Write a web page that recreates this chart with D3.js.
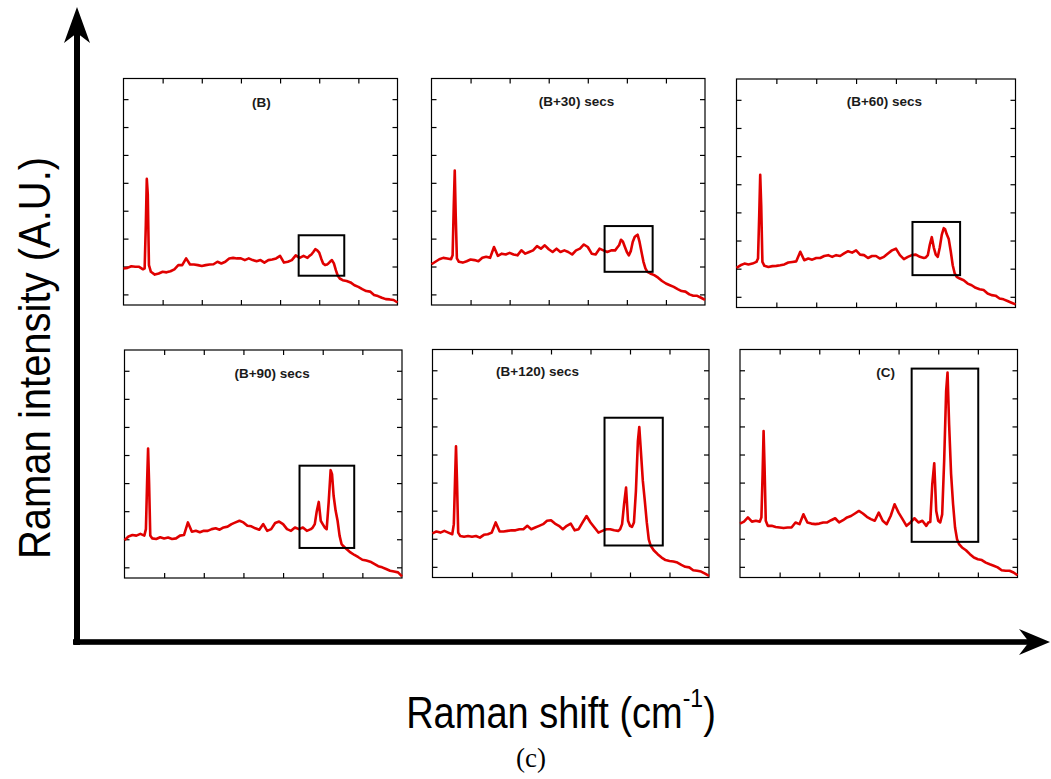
<!DOCTYPE html>
<html>
<head>
<meta charset="utf-8">
<script src="https://cdn.jsdelivr.net/npm/d3@7"></script>
<style>
  html, body { margin: 0; padding: 0; background: #fff; }
  svg { display: block; }
</style>
</head>
<body>
<svg id="chart" width="1051" height="779"></svg>
<script>
// Raman shift sampling grid (cm^-1), shared by every spectrum
const shift = [400,420,440,460,480,500,508,514,519,524,530,
  540,560,580,600,620,640,660,680,700,720,
  740,760,780,800,820,840,860,880,900,920,
  940,960,980,1000,1020,1040,1060,1080,1100,1120,
  1140,1160,1180,1200,1220,1240,1260,1280,1300,1320,1340,
  1350,1360,1370,1380,1390,1400,1410,1420,1430,1440,
  1447,1455,1465,1475,1485,1495,1505,1520,
  1540,1560,1580,1600,1620,1640,1660,1680,1700,1720,1740,1760,1780,1800];

// Raman intensity (A.U.) for each acquisition
const intensityB = [1.93,1.95,2.01,1.99,1.99,1.90,
  1.93,3.48,5.14,4.60,2.05,
  1.81,1.71,1.75,1.81,1.79,1.83,1.90,2.05,2.05,2.29,
  2.07,2.07,2.05,2.02,2.05,2.07,2.08,2.17,2.11,2.17,
  2.29,2.31,2.29,2.29,2.23,2.29,2.23,2.19,2.23,2.14,
  2.23,2.25,2.29,2.38,2.14,2.17,2.23,2.40,2.31,2.38,2.31,
  2.38,2.43,2.52,2.62,2.58,2.50,2.29,2.11,2.05,2.07,
  2.11,2.17,2.23,2.11,1.87,1.67,1.57,1.51,
  1.48,1.43,1.33,1.27,1.19,1.12,1.10,0.98,0.94,0.88,0.83,0.82,0.80,0.71];

const intensityB30 = [2.08,2.17,2.26,2.31,2.29,2.26,
  2.40,4.19,5.44,3.83,2.29,
  2.17,2.14,2.19,2.25,2.23,2.19,2.31,2.35,2.31,2.70,
  2.38,2.46,2.43,2.49,2.43,2.40,2.58,2.46,2.52,2.58,
  2.73,2.64,2.76,2.62,2.52,2.64,2.52,2.58,2.52,2.43,
  2.58,2.64,2.79,2.70,2.46,2.43,2.64,2.58,2.52,2.58,2.58,
  2.67,2.76,2.96,2.89,2.70,2.52,2.40,2.55,2.88,3.06,
  3.10,3.14,2.88,2.52,2.17,1.93,1.81,1.75,
  1.69,1.60,1.48,1.39,1.33,1.27,1.19,1.12,1.10,1.00,0.95,0.95,0.88,0.80];

const intensityB60 = [2.03,2.12,2.18,2.15,2.18,2.24,
  2.36,3.90,5.34,4.25,2.24,
  2.10,2.06,2.09,2.10,2.12,2.15,2.22,2.24,2.26,2.60,
  2.30,2.36,2.32,2.38,2.38,2.45,2.48,2.42,2.48,2.45,
  2.54,2.62,2.57,2.65,2.50,2.48,2.38,2.45,2.45,2.36,
  2.42,2.54,2.65,2.71,2.48,2.34,2.42,2.48,2.50,2.42,2.38,
  2.40,2.48,2.85,3.12,2.75,2.50,2.42,2.75,3.20,3.44,
  3.40,3.22,3.05,2.62,2.12,1.83,1.71,1.65,
  1.59,1.47,1.41,1.32,1.27,1.24,1.12,1.06,1.04,0.94,0.91,0.85,0.79,0.73];

const intensityB90 = [1.97,2.10,2.15,2.13,2.19,2.13,
  2.36,4.02,5.23,4.02,2.13,
  2.03,2.01,2.07,2.03,2.06,2.01,2.03,2.13,2.15,2.60,
  2.27,2.30,2.25,2.30,2.30,2.36,2.39,2.34,2.42,2.45,
  2.54,2.60,2.66,2.60,2.48,2.46,2.39,2.34,2.54,2.30,
  2.36,2.58,2.63,2.54,2.36,2.30,2.42,2.36,2.42,2.30,2.36,
  2.42,2.54,3.00,3.33,2.66,2.54,2.42,2.36,3.31,4.46,
  4.32,3.55,3.02,2.66,2.13,1.83,1.75,1.65,
  1.53,1.44,1.36,1.27,1.24,1.20,1.12,1.04,1.00,0.94,0.88,0.85,0.82,0.68];

const intensityB120 = [2.19,2.26,2.22,2.28,2.22,2.16,
  2.52,4.06,5.29,4.06,2.22,
  2.10,2.07,2.10,2.07,2.10,2.04,2.14,2.16,2.22,2.58,
  2.26,2.26,2.28,2.30,2.30,2.34,2.34,2.46,2.34,2.40,
  2.46,2.52,2.64,2.66,2.54,2.46,2.34,2.46,2.54,2.30,
  2.34,2.58,2.81,2.58,2.40,2.22,2.28,2.34,2.34,2.30,2.28,
  2.34,2.52,3.23,3.82,2.64,2.46,2.42,2.58,3.70,5.48,
  5.98,5.13,4.06,3.35,2.58,1.98,1.75,1.59,
  1.45,1.33,1.24,1.21,1.19,1.15,1.07,1.00,0.98,0.88,0.86,0.83,0.76,0.68];

const intensityC = [2.54,2.61,2.76,2.61,2.64,2.61,
  2.76,4.30,5.84,4.53,2.64,
  2.46,2.46,2.42,2.40,2.38,2.40,2.40,2.58,2.52,2.87,
  2.58,2.54,2.52,2.54,2.58,2.58,2.66,2.73,2.58,2.66,
  2.76,2.81,2.90,2.99,2.90,2.78,2.70,2.64,2.93,2.64,
  2.52,2.81,3.23,2.93,2.70,2.46,2.58,2.73,2.58,2.64,2.46,
  2.58,2.60,3.94,4.69,2.99,2.64,2.58,2.87,4.77,7.26,
  7.92,6.08,4.30,3.23,2.40,1.98,1.81,1.69,
  1.59,1.45,1.33,1.27,1.24,1.15,1.09,1.04,0.98,0.88,0.86,0.86,0.80,0.70];

// Highlighted band region per spectrum: [shift from, shift to, intensity low, intensity high]
const regionB    = [1295, 1528, 1.67, 3.12];
const regionB30  = [1286, 1532, 1.81, 3.45];
const regionB60  = [1283, 1522, 1.77, 3.66];
const regionB90  = [1283, 1559, 1.69, 4.62];
const regionB120 = [1271, 1566, 1.76, 6.31];
const regionC    = [1266, 1602, 1.89, 8.06];

const panelTitles = ["(B)", "(B+30) secs", "(B+60) secs", "(B+90) secs", "(B+120) secs", "(C)"];
const xTickValues = [600, 800, 1000, 1200, 1400, 1600];
const yTickValues = [1, 2, 3, 4, 5, 6, 7, 8];
const xDomain = [400, 1800];
const yDomain = [0.62, 8.74];

const spectra = [intensityB, intensityB30, intensityB60, intensityB90, intensityB120, intensityC];
const regions = [regionB, regionB30, regionB60, regionB90, regionB120, regionC];

// Small-multiple frames in page pixels: left, top, right, bottom
const frames = [
  [123.5, 78.5, 397.5, 305],
  [431.5, 78.5, 705, 305],
  [736.5, 79, 1015.5, 307.5],
  [124.5, 350, 402, 578],
  [432.5, 349.5, 709, 577.5],
  [740, 349.5, 1017.5, 577.5]
];
// Title anchor: fraction of panel width, pixels below panel top (text centre)
const titlePlace = [[0.503, 24], [0.53, 23], [0.53, 22], [0.532, 23], [0.38, 21.5], [0.525, 22.5]];

const svg = d3.select("#chart");

frames.forEach((f, i) => {
  const [x0, y0, x1, y1] = f;
  const x = d3.scaleLinear().domain(xDomain).range([x0, x1]);
  const y = d3.scaleLinear().domain(yDomain).range([y1, y0]);
  const g = svg.append("g");

  // inward ticks on all four sides
  const tick = 5;
  const axes = [
    [d3.axisBottom(x).tickValues(xTickValues), `translate(0,${y1})`],
    [d3.axisTop(x).tickValues(xTickValues), `translate(0,${y0})`],
    [d3.axisLeft(y).tickValues(yTickValues), `translate(${x0},0)`],
    [d3.axisRight(y).tickValues(yTickValues), `translate(${x1},0)`]
  ];
  axes.forEach(([ax, tr]) => {
    const a = g.append("g").attr("transform", tr)
      .call(ax.tickSize(-tick).tickSizeOuter(0).tickFormat(""));
    a.select(".domain").remove();
    a.selectAll(".tick line").attr("stroke", "#000").attr("stroke-width", 1.2);
  });

  g.append("rect")
    .attr("x", x0).attr("y", y0)
    .attr("width", x1 - x0).attr("height", y1 - y0)
    .attr("fill", "none").attr("stroke", "#000").attr("stroke-width", 1.2);

  // spectrum
  const line = d3.line().x((d, k) => x(shift[k])).y(d => y(d));
  g.append("path")
    .datum(spectra[i])
    .attr("d", line)
    .attr("fill", "none")
    .attr("stroke", "#e00000")
    .attr("stroke-width", 2.6)
    .attr("stroke-linejoin", "round");

  // highlighted band region
  const r = regions[i];
  g.append("rect")
    .attr("x", x(r[0])).attr("y", y(r[3]))
    .attr("width", x(r[1]) - x(r[0]))
    .attr("height", y(r[2]) - y(r[3]))
    .attr("fill", "none").attr("stroke", "#000").attr("stroke-width", 2);

  // title
  const tp = titlePlace[i];
  g.append("text")
    .attr("x", x0 + (x1 - x0) * tp[0])
    .attr("y", y0 + tp[1] + 4.5)
    .attr("text-anchor", "middle")
    .attr("font-family", "Liberation Sans, Arial, sans-serif")
    .attr("font-weight", "bold")
    .attr("font-size", 13.5)
    .attr("fill", "#1a1a1a")
    .text(panelTitles[i]);
});

// Global axes with arrow heads
svg.append("rect").attr("x", 74).attr("y", 30).attr("width", 6).attr("height", 615).attr("fill", "#000");
svg.append("path").attr("d", "M77,7 L90,43 L77,33 L64,43 Z").attr("fill", "#000");
svg.append("rect").attr("x", 73).attr("y", 639.2).attr("width", 960).attr("height", 5.6).attr("fill", "#000");
svg.append("path").attr("d", "M1050,642 L1019,629 L1029,642 L1019,655 Z").attr("fill", "#000");

// Axis titles
const yLab = svg.append("g").attr("transform", "translate(50,358) rotate(-90) scale(1,1.1)");
yLab.append("text")
  .attr("text-anchor", "middle")
  .attr("font-family", "Liberation Sans, Arial, sans-serif")
  .attr("font-size", 40)
  .attr("fill", "#000")
  .text("Raman intensity (A.U.)");

const xLab = svg.append("g").attr("transform", "translate(561,728) scale(1,1.15)");
const xt = xLab.append("text")
  .attr("text-anchor", "middle")
  .attr("font-family", "Liberation Sans, Arial, sans-serif")
  .attr("font-size", 38)
  .attr("fill", "#000");
xt.append("tspan").text("Raman shift (cm");
xt.append("tspan").attr("font-size", 23).attr("dy", -18).text("-1");
xt.append("tspan").attr("dy", 18).text(")");

svg.append("text")
  .attr("x", 531).attr("y", 767)
  .attr("text-anchor", "middle")
  .attr("font-family", "Liberation Serif, DejaVu Serif, serif")
  .attr("font-size", 27)
  .attr("fill", "#000")
  .text("(c)");
</script>
</body>
</html>
